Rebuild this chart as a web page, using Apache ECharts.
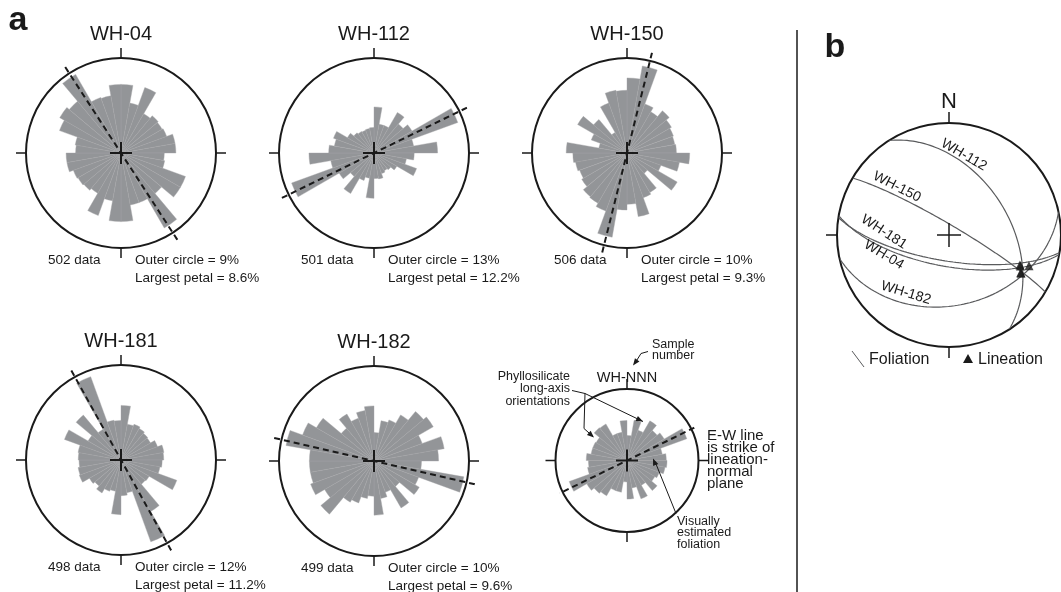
<!DOCTYPE html>
<html>
<head>
<meta charset="utf-8">
<script src="https://cdn.jsdelivr.net/npm/echarts@6/dist/echarts.min.js"></script>
<style>
html, body { margin: 0; padding: 0; background: #fff; }
#main { width: 1061px; height: 592px; }
</style>
</head>
<body>
<div id="main"></div>
<script>
// ---- data ----
// rose bins are 10 degrees wide, clockwise from north (0-10, 10-20, ... 350-360), values in %
var binNames = [];
for (var b = 0; b < 36; b++) binNames.push(b * 10 + '-' + (b * 10 + 10));

var sampleNames = ['WH-04', 'WH-112', 'WH-150', 'WH-181', 'WH-182'];
var dataCounts = [502, 501, 506, 498, 499];
var outerCircle = [9, 13, 10, 12, 10];
var largestPetal = [8.6, 12.2, 9.3, 11.2, 9.6];
var foliationAz = [147, 64, 14, 151, 103];

var petalsWH04 = [6.5, 4.8, 6.6, 4.3, 4.6, 4.5, 4.6, 5.2, 5.2, 4.1, 4.2, 6.5, 6.5, 5.0, 8.2, 5.0, 5.0, 6.5,
                  6.5, 4.6, 6.3, 4.4, 4.6, 4.7, 4.8, 5.2, 5.2, 4.3, 4.4, 6.2, 6.7, 6.4, 8.6, 5.6, 5.5, 6.5];
var petalsWH112 = [6.3, 4.0, 4.0, 6.4, 5.2, 6.0, 12.2, 5.5, 8.7, 5.5, 4.5, 6.2, 3.6, 3.0, 2.8, 3.0, 3.6, 3.5,
                   6.2, 3.5, 4.0, 6.4, 4.2, 5.5, 12.0, 6.0, 8.9, 6.2, 5.5, 5.9, 4.2, 3.6, 3.4, 3.3, 3.4, 3.5];
var petalsWH150 = [7.9, 9.3, 5.5, 5.0, 5.8, 5.4, 5.2, 5.1, 5.2, 6.6, 5.6, 3.8, 6.1, 2.8, 4.8, 5.0, 6.8, 5.4,
                   6.0, 9.0, 6.5, 6.1, 6.0, 5.5, 5.3, 5.5, 5.7, 6.4, 3.0, 4.0, 6.0, 4.6, 2.5, 5.6, 6.7, 6.6];
var petalsWH181 = [6.9, 4.6, 4.8, 4.6, 4.4, 4.3, 4.9, 5.5, 5.4, 5.2, 5.0, 7.5, 4.1, 4.0, 7.5, 11.0, 4.2, 4.5,
                   6.9, 4.0, 4.2, 4.8, 4.3, 4.6, 5.6, 5.5, 5.3, 5.4, 5.5, 7.6, 4.8, 7.4, 4.5, 11.2, 5.1, 5.0];
var petalsWH182 = [3.0, 4.3, 4.6, 5.6, 6.8, 7.2, 5.4, 7.5, 6.8, 5.0, 9.6, 5.0, 5.5, 3.5, 5.7, 3.5, 4.0, 5.7,
                   3.7, 4.0, 4.7, 5.0, 7.3, 6.0, 7.1, 6.8, 6.8, 6.8, 9.4, 8.0, 7.0, 4.5, 5.7, 4.8, 5.4, 5.8];
var petalSets = [petalsWH04, petalsWH112, petalsWH150, petalsWH181, petalsWH182];

// explanation rose (WH-NNN), no scale given
var petalsExample = [3.5, 5.7, 4.5, 6.4, 5.5, 6.0, 8.9, 5.0, 5.5, 5.6, 5.4, 4.8, 4.5, 5.5, 4.0, 5.7, 3.9, 5.4,
                     3.0, 4.5, 4.5, 5.7, 6.0, 6.5, 8.6, 5.6, 5.4, 5.7, 5.1, 5.1, 5.0, 6.0, 5.9, 4.0, 4.0, 5.6];
var exampleOuter = 10;
var exampleFoliationAz = 64;

// stereonet (b): foliation planes (strike, right-hand rule, dip) and lineations (trend, plunge)
var planeNames = ['WH-112', 'WH-150', 'WH-181', 'WH-04', 'WH-182'];
var planeStrike = [327.5, 300.6, 99, 100, 78];
var planeDip = [45, 83, 71, 67, 37];
var lineationTrend = [113, 111, 118, 113.5, 117.5];
var lineationPlunge = [31.8, 24.5, 28, 31, 28.5];

// ---- layout ----
var roseCenters = [[121, 153], [374, 153], [627, 153], [121, 460], [374, 461]];
var roseRadius = 95;
var exampleCenter = [627, 460.5];
var exampleRadius = 71.5;
var netCenter = [949, 235];
var netRadius = 112;

var FONT = '"Liberation Sans", Arial, Helvetica, sans-serif';
var INK = '#1a1a1a';
var PETAL = '#939598';

var chart = echarts.init(document.getElementById('main'), null, { renderer: 'canvas' });

var polar = [], angleAxis = [], radiusAxis = [], series = [], graphic = [];

function lineEl(x1, y1, x2, y2, w, color) {
    return { type: 'line', z: 100, silent: true,
        shape: { x1: x1, y1: y1, x2: x2, y2: y2 },
        style: { stroke: color || INK, lineWidth: w } };
}
function textEl(txt, x, y, size, align, opts) {
    opts = opts || {};
    return { type: 'text', x: x, y: y, z: 100, silent: true, rotation: opts.rotation || 0,
        style: { text: txt, font: (opts.weight || 'normal') + ' ' + size + 'px ' + FONT,
            fill: opts.color || INK, textAlign: align, align: align,
            textVerticalAlign: 'middle', verticalAlign: 'middle' } };
}
function arrowHead(x1, y1, x2, y2) {
    var a = Math.atan2(y2 - y1, x2 - x1), L = 7, W = 2.8;
    var bx = x2 - L * Math.cos(a), by = y2 - L * Math.sin(a);
    return { type: 'polygon', z: 100, silent: true,
        shape: { points: [[x2, y2], [bx - W * Math.sin(a), by + W * Math.cos(a)], [bx + W * Math.sin(a), by - W * Math.cos(a)]] },
        style: { fill: INK } };
}

function addRose(center, radius, petals, outer, folAz, ext) {
    var p = polar.length;
    polar.push({ center: center, radius: radius });
    angleAxis.push({
        polarIndex: p, type: 'category', data: binNames, startAngle: 90, clockwise: true,
        axisLine: { lineStyle: { color: INK, width: 2 } },
        axisTick: { show: true, interval: 8, length: 10, lineStyle: { color: INK, width: 1.5 } },
        axisLabel: { show: false }, splitLine: { show: false }, splitArea: { show: false }
    });
    radiusAxis.push({ polarIndex: p, type: 'value', min: 0, max: outer, show: false });
    series.push({
        type: 'bar', coordinateSystem: 'polar', polarIndex: p, data: petals,
        barWidth: '100%', barGap: '-100%', barCategoryGap: '0%', silent: true,
        itemStyle: { color: PETAL, borderColor: '#a4a5a7', borderWidth: 0.4 }
    });

    // foliation trace, slightly longer than the outer circle
    var q = polar.length;
    polar.push({ center: center, radius: radius * ext });
    angleAxis.push({ polarIndex: q, type: 'value', min: 0, max: 360, startAngle: 90, clockwise: true, show: false });
    radiusAxis.push({ polarIndex: q, type: 'value', min: 0, max: 1, show: false });
    series.push({
        type: 'line', coordinateSystem: 'polar', polarIndex: q, z: 4, silent: true,
        data: [[1, folAz], [1, (folAz + 180) % 360]], showSymbol: false,
        lineStyle: { color: INK, width: 2, type: [6, 4] }
    });

    graphic.push(lineEl(center[0] - 11, center[1], center[0] + 11, center[1], 2));
    graphic.push(lineEl(center[0], center[1] - 11, center[0], center[1] + 11, 2));
}

for (var i = 0; i < 5; i++) {
    var c = roseCenters[i];
    addRose(c, roseRadius, petalSets[i], outerCircle[i], foliationAz[i], 1.09);
    graphic.push(textEl(sampleNames[i], c[0], c[1] - 119, 20, 'center'));
    graphic.push(textEl(dataCounts[i] + ' data', c[0] - 73, c[1] + 107, 13.5, 'left'));
    graphic.push(textEl('Outer circle = ' + outerCircle[i] + '%', c[0] + 14, c[1] + 107, 13.5, 'left'));
    graphic.push(textEl('Largest petal = ' + largestPetal[i] + '%', c[0] + 14, c[1] + 125, 13.5, 'left'));
}

// explanation rose
addRose(exampleCenter, exampleRadius, petalsExample, exampleOuter, exampleFoliationAz, 1.05);
var ex = exampleCenter[0], ey = exampleCenter[1];
graphic.push(textEl('WH-NNN', ex, ey - 83, 14.5, 'center'));
graphic.push(textEl('Sample', ex + 25, ey - 116, 12.5, 'left'));
graphic.push(textEl('number', ex + 25, ey - 104.5, 12.5, 'left'));
graphic.push({ type: 'polyline', z: 100, silent: true,
    shape: { points: [[ex + 21, ey - 109], [ex + 14, ey - 107], [ex + 9, ey - 99]] },
    style: { stroke: INK, lineWidth: 1, fill: null } });
graphic.push(arrowHead(ex + 9, ey - 99, ex + 6, ey - 95));
['Phyllosilicate', 'long-axis', 'orientations'].forEach(function (t, k) {
    graphic.push(textEl(t, ex - 57, ey - 84 + k * 12.5, 12.5, 'right'));
});
graphic.push({ type: 'polyline', z: 100, silent: true,
    shape: { points: [[ex - 55, ey - 70], [ex - 42, ey - 67], [ex + 16, ey - 39]] },
    style: { stroke: INK, lineWidth: 1, fill: null } });
graphic.push(arrowHead(ex - 42, ey - 67, ex + 16, ey - 39));
graphic.push({ type: 'polyline', z: 100, silent: true,
    shape: { points: [[ex - 42, ey - 67], [ex - 43, ey - 32], [ex - 34, ey - 24]] },
    style: { stroke: INK, lineWidth: 1, fill: null } });
graphic.push(arrowHead(ex - 43, ey - 32, ex - 33, ey - 23));
['E-W line', 'is strike of', 'lineation-', 'normal', 'plane'].forEach(function (t, k) {
    graphic.push(textEl(t, ex + 80, ey - 25 + k * 12, 15, 'left'));
});
['Visually', 'estimated', 'foliation'].forEach(function (t, k) {
    graphic.push(textEl(t, ex + 50, ey + 61 + k * 11.5, 12.5, 'left'));
});
graphic.push(lineEl(ex + 49, ey + 53, ex + 28, ey + 1, 1));
graphic.push(arrowHead(ex + 49, ey + 53, ex + 26, ey - 2));

// ---- stereonet (equal-area, lower hemisphere) ----
function toNet(trend, plunge) {
    var r = Math.SQRT2 * Math.sin((90 - plunge) / 2 * Math.PI / 180);
    return [r, ((trend % 360) + 360) % 360];
}
function greatCircle(strike, dip) {
    var d2r = Math.PI / 180, pts = [];
    var dd = (strike + 90) * d2r, s = strike * d2r, d = dip * d2r;
    for (var t = 0; t <= 180; t += 2) {
        var ct = Math.cos(t * d2r), st = Math.sin(t * d2r);
        var e = ct * Math.sin(s) + st * Math.sin(dd) * Math.cos(d);
        var n = ct * Math.cos(s) + st * Math.cos(dd) * Math.cos(d);
        var z = st * Math.sin(d);
        var trend = Math.atan2(e, n) / d2r;
        var plunge = Math.asin(Math.max(-1, Math.min(1, z))) / d2r;
        pts.push(toNet(trend, plunge));
    }
    return pts;
}

var np = polar.length;
polar.push({ center: netCenter, radius: netRadius });
angleAxis.push({
    polarIndex: np, type: 'value', min: 0, max: 360, interval: 90, startAngle: 90, clockwise: true,
    axisLine: { lineStyle: { color: INK, width: 2 } },
    axisTick: { show: true, length: 11, lineStyle: { color: INK, width: 1.5 } },
    axisLabel: { show: false }, splitLine: { show: false }
});
radiusAxis.push({ polarIndex: np, type: 'value', min: 0, max: 1, show: false });
for (var j = 0; j < planeNames.length; j++) {
    series.push({
        name: planeNames[j], type: 'line', coordinateSystem: 'polar', polarIndex: np, silent: true,
        data: greatCircle(planeStrike[j], planeDip[j]), showSymbol: false, smooth: false,
        lineStyle: { color: '#5a5b5d', width: 1.2 }
    });
}
series.push({
    name: 'Lineation', type: 'scatter', coordinateSystem: 'polar', polarIndex: np, silent: true, z: 5,
    data: lineationTrend.map(function (t, k) { return toNet(t, lineationPlunge[k]); }),
    symbol: 'triangle', symbolSize: 9, itemStyle: { color: INK }
});

var nx = netCenter[0], ny = netCenter[1];
graphic.push(lineEl(nx - 12, ny, nx + 12, ny, 1.5));
graphic.push(lineEl(nx, ny - 12, nx, ny + 12, 1.5));
graphic.push(textEl('N', nx, ny - 133, 22, 'center'));
var labelPos = [[964, 155, 30], [897, 187, 27], [884, 232, 33], [884, 255, 31], [906, 293, 17]];
for (var m = 0; m < planeNames.length; m++) {
    graphic.push(textEl(planeNames[m], labelPos[m][0], labelPos[m][1], 14, 'center',
        { rotation: -labelPos[m][2] * Math.PI / 180 }));
}
graphic.push(lineEl(852, 351, 864, 367, 1, '#5a5b5d'));
graphic.push(textEl('Foliation', 869, 360, 16, 'left'));
graphic.push({ type: 'polygon', z: 100, silent: true,
    shape: { points: [[968, 354], [973, 363], [963, 363]] }, style: { fill: INK } });
graphic.push(textEl('Lineation', 978, 360, 16, 'left'));

// panel letters and divider
graphic.push(textEl('a', 18, 21, 34, 'center', { weight: 'bold' }));
graphic.push(textEl('b', 835, 48, 34, 'center', { weight: 'bold' }));
graphic.push(lineEl(797, 30, 797, 592, 1.5));

var option = {
    animation: false,
    backgroundColor: '#fff',
    polar: polar,
    angleAxis: angleAxis,
    radiusAxis: radiusAxis,
    series: series,
    graphic: { elements: graphic }
};
chart.setOption(option);
window.addEventListener('resize', chart.resize);
</script>
</body>
</html>
